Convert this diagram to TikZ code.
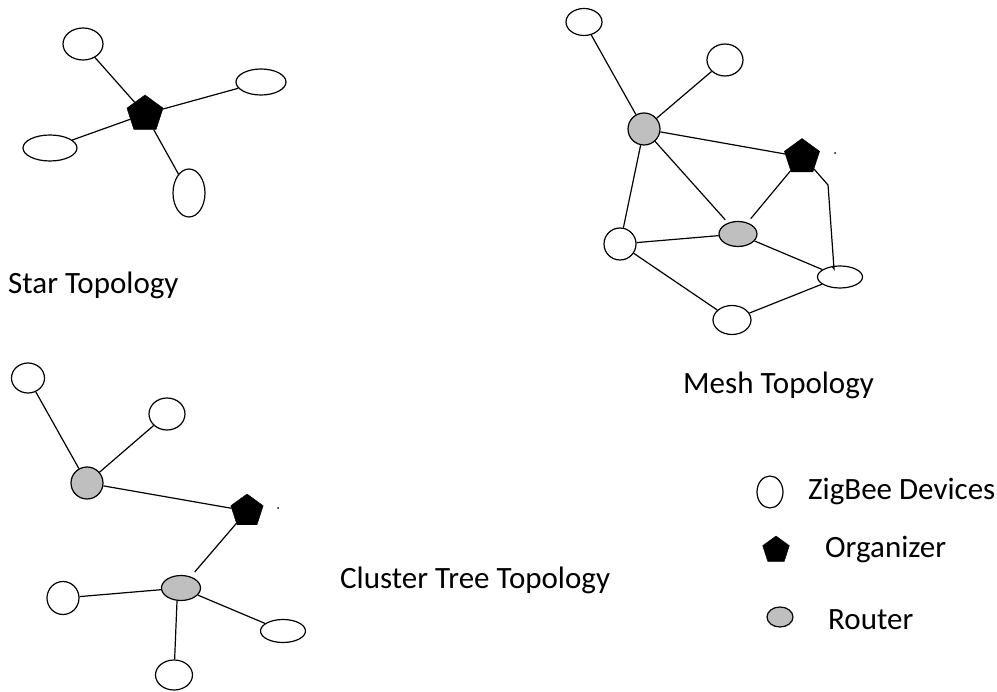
\documentclass[tikz,border=0pt]{standalone}
\usepackage{fontspec}
\setmainfont{Carlito}
\usetikzlibrary{shapes.geometric}
\begin{document}
\begin{tikzpicture}[x=1pt,y=-1pt,
  dev/.style={ellipse,draw=black,line width=1.2pt,fill=white,inner sep=0pt},
  rtr/.style={ellipse,draw=black,line width=1.2pt,fill=gray!50,inner sep=0pt},
  org/.style={regular polygon,regular polygon sides=5,fill=black,draw=black,inner sep=0pt,minimum size=38pt},
  link/.style={line width=1.2pt},
  lbl/.style={font=\fontsize{31}{34}\selectfont,anchor=west,inner sep=0pt}]
\useasboundingbox (0,0) rectangle (997,692);
% ---------- Star ----------
\node[org] (sp) at (145,114) {};
\node[dev,minimum width=40pt,minimum height=32pt] (s1) at (83,44) {};
\node[dev,minimum width=50pt,minimum height=26pt] (s2) at (261,82) {};
\node[dev,minimum width=54pt,minimum height=26pt] (s3) at (50,148) {};
\node[dev,minimum width=32pt,minimum height=48pt] (s4) at (189,193) {};
\draw[link] (sp) -- (s1);
\draw[link] (sp) -- (s2);
\draw[link] (sp) -- (s3);
\draw[link] (sp) -- (s4);
\node[lbl] (starlbl) at (8,285) {Star Topology};
% ---------- Mesh ----------
\node[dev,minimum width=36pt,minimum height=27pt] (m1) at (584,22) {};
\node[dev,minimum width=36pt,minimum height=32pt] (m2) at (725,60) {};
\node[rtr,minimum width=32pt,minimum height=32pt] (mr1) at (644,129) {};
\node[org,minimum size=37pt] (mp) at (802,157) {};
\node[rtr,minimum width=38pt,minimum height=25pt] (mr2) at (738,234) {};
\node[dev,minimum width=32pt,minimum height=32pt] (ml) at (620,244) {};
\node[dev,minimum width=45pt,minimum height=22pt] (mr) at (840,277) {};
\node[dev,minimum width=38pt,minimum height=29pt] (mb) at (732,320) {};
\fill (835,153) circle (1pt);
\draw[link] (mr1) -- (m1);
\draw[link] (mr1) -- (m2);
\draw[link] (mr1) -- (mp);
\draw[link,shorten >=4pt] (mr1) -- (mr2);
\draw[link] (mr1) -- (ml);
\draw[link,shorten >=5pt] (mp) -- (mr2);
\draw[link] (mp.south east) -- ++(14,16) -- (mr.north west -| 834,0) -- (mr);
\draw[link] (ml) -- (mr2);
\draw[link] (mr2) -- (mr);
\draw[link] (ml) -- (mb);
\draw[link] (mb) -- (mr);
\node[lbl] (meshlbl) at (683,385) {Mesh Topology};
% ---------- Cluster tree ----------
\node[dev,minimum width=33pt,minimum height=30pt] (c1) at (28,378) {};
\node[dev,minimum width=36pt,minimum height=32pt] (c2) at (167,414) {};
\node[rtr,minimum width=32pt,minimum height=32pt] (cr1) at (87,483) {};
\node[org,minimum size=34pt] (cp) at (247,511) {};
\fill (278,508) circle (1pt);
\node[rtr,minimum width=39pt,minimum height=25pt] (cr2) at (181,588) {};
\node[dev,minimum width=32pt,minimum height=33pt] (cl) at (63,598) {};
\node[dev,minimum width=45pt,minimum height=23pt] (cr) at (283,631) {};
\node[dev,minimum width=37pt,minimum height=30pt] (cb) at (174,675) {};
\draw[link] (cr1) -- (c1);
\draw[link] (cr1) -- (c2);
\draw[link] (cr1) -- (cp);
\draw[link,shorten >=6pt] (cp) -- (cr2);
\draw[link] (cr2) -- (cl);
\draw[link] (cr2.south -| 177,0) -- (cb);
\draw[link] (cr2) -- (cr);
\node[lbl] (clusterlbl) at (340,580) {Cluster Tree Topology};
% ---------- Legend ----------
\node[dev,minimum width=26pt,minimum height=32pt] (ldev) at (770,492) {};
\node[lbl] (ldevt) at (808,492) {ZigBee Devices};
\node[org,minimum size=28pt] (lorg) at (776,550) {};
\node[lbl] (lorgt) at (825,550) {Organizer};
\node[rtr,minimum width=26pt,minimum height=20pt] (lrtr) at (780,617) {};
\node[lbl] (lrtrt) at (828,620) {Router};
\end{tikzpicture}
\end{document}
